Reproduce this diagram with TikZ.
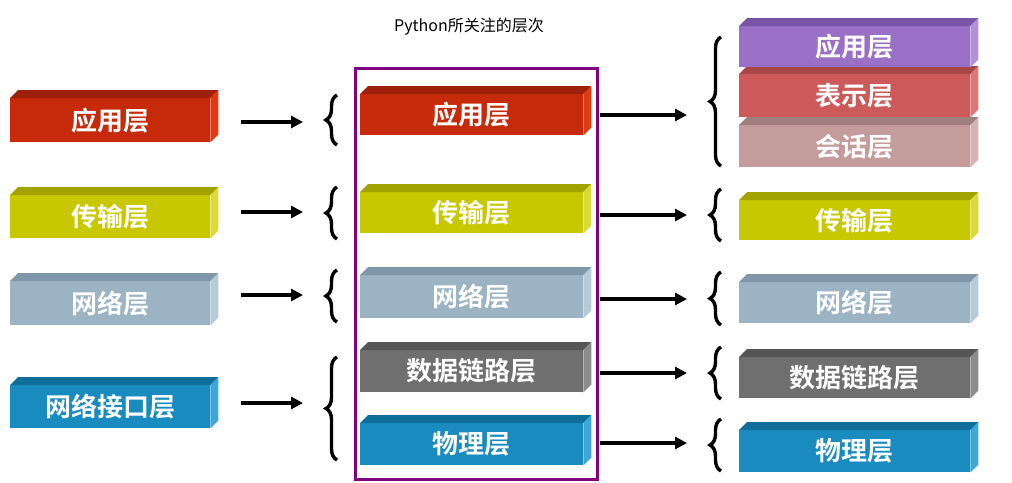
\documentclass[tikz,border=0pt]{standalone}
\usepackage{fontspec}
\newfontfamily\cjk{Noto Sans CJK SC}
\newfontfamily\cjkb{Noto Sans CJK SC Bold}
\usetikzlibrary{calc,decorations.pathreplacing,arrows.meta}
\definecolor{redF}{HTML}{C62A0A}\definecolor{redT}{HTML}{9E200A}\definecolor{redS}{HTML}{E03A12}
\definecolor{yelF}{HTML}{C8C800}\definecolor{yelT}{HTML}{A2A200}\definecolor{yelS}{HTML}{DADA3A}
\definecolor{gbF}{HTML}{9BB3C3}\definecolor{gbT}{HTML}{7F97A8}\definecolor{gbS}{HTML}{B7CAD7}
\definecolor{blF}{HTML}{1A8BBF}\definecolor{blT}{HTML}{0F6E9A}\definecolor{blS}{HTML}{3DA8D8}
\definecolor{dgF}{HTML}{6F6F6F}\definecolor{dgT}{HTML}{555555}\definecolor{dgS}{HTML}{8C8C8C}
\definecolor{puF}{HTML}{9A70C6}\definecolor{puT}{HTML}{7A55A5}\definecolor{puS}{HTML}{B490DA}
\definecolor{rsF}{HTML}{CC5A5A}\definecolor{rsT}{HTML}{A84545}\definecolor{rsS}{HTML}{DE7676}
\definecolor{pkF}{HTML}{C49C9C}\definecolor{pkT}{HTML}{A07E7E}\definecolor{pkS}{HTML}{D6B2B2}
\definecolor{frame}{HTML}{800080}
\tikzset{
  layerbox/.style={inner sep=0pt, anchor=north west, text=white, font=\cjkb\fontsize{26}{26}\selectfont},
  conn/.style={line width=3.6pt, -{Triangle[length=12pt,width=12pt]}},
  brc/.style={decorate, decoration={brace, amplitude=11pt}, line width=3.4pt},
}
% name, x, y, w, h, front, top, side, text
\newcommand\layer[9]{%
  \node[layerbox, fill=#6, minimum width=#4pt, minimum height=#5pt] (#1) at (#2,#3) {#9};
  \fill[#7] (#1.north west) -- ++(8,-8) -- ($(#1.north east)+(8,-8)$) -- (#1.north east) -- cycle;
  \fill[#8] (#1.north east) -- ++(8,-8) -- ($(#1.south east)+(8,-8)$) -- (#1.south east) -- cycle;
}
\begin{document}
\begin{tikzpicture}[x=1pt,y=-1pt]
\useasboundingbox (0,0) rectangle (1012,482);
\node[font=\cjk\fontsize{16}{16}\selectfont] (title) at (469,27) {Python所关注的层次};
% left column
\layer{L1}{10}{98}{200}{44}{redF}{redT}{redS}{应用层}
\layer{L2}{10}{195}{200}{43}{yelF}{yelT}{yelS}{传输层}
\layer{L3}{10}{281}{200}{44}{gbF}{gbT}{gbS}{网络层}
\layer{L4}{10}{385}{200}{43}{blF}{blT}{blS}{网络接口层}
% middle column
\draw[frame, line width=3pt] (355,68) rectangle (597,479);
\layer{M1}{360}{94}{223}{41}{redF}{redT}{redS}{应用层}
\layer{M2}{360}{192}{223}{41}{yelF}{yelT}{yelS}{传输层}
\layer{M3}{360}{275}{223}{43}{gbF}{gbT}{gbS}{网络层}
\layer{M4}{360}{350}{223}{42}{dgF}{dgT}{dgS}{数据链路层}
\layer{M5}{360}{423}{223}{42}{blF}{blT}{blS}{物理层}
% right column
\layer{R3}{739}{125}{231}{42}{pkF}{pkT}{pkS}{会话层}
\layer{R2}{739}{74}{231}{43}{rsF}{rsT}{rsS}{表示层}
\layer{R1}{739}{26}{231}{41}{puF}{puT}{puS}{应用层}
\layer{R4}{739}{200}{231}{40}{yelF}{yelT}{yelS}{传输层}
\layer{R5}{739}{282}{231}{41}{gbF}{gbT}{gbS}{网络层}
\layer{R6}{739}{357}{231}{41}{dgF}{dgT}{dgS}{数据链路层}
\layer{R7}{739}{430}{231}{42}{blF}{blT}{blS}{物理层}
% left braces
\coordinate (lb1a) at (337,145); \coordinate (lb1b) at (337,95);
\coordinate (lb2a) at (337,239); \coordinate (lb2b) at (337,187);
\coordinate (lb3a) at (337,322); \coordinate (lb3b) at (337,270);
\coordinate (lb4a) at (337,460); \coordinate (lb4b) at (337,357);
\draw[brc] (lb1a) -- (lb1b);
\draw[brc] (lb2a) -- (lb2b);
\draw[brc] (lb3a) -- (lb3b);
\draw[brc] (lb4a) -- (lb4b);
% right braces
\coordinate (rb1a) at (721,166); \coordinate (rb1b) at (721,37);
\coordinate (rb2a) at (721,241); \coordinate (rb2b) at (721,189);
\coordinate (rb3a) at (721,325); \coordinate (rb3b) at (721,272);
\coordinate (rb4a) at (721,399); \coordinate (rb4b) at (721,347);
\coordinate (rb5a) at (721,471); \coordinate (rb5b) at (721,419);
\draw[brc] (rb1a) -- (rb1b);
\draw[brc] (rb2a) -- (rb2b);
\draw[brc] (rb3a) -- (rb3b);
\draw[brc] (rb4a) -- (rb4b);
\draw[brc] (rb5a) -- (rb5b);
% left arrows
\coordinate (la1s) at (241,122); \coordinate (la1e) at (303,122);
\coordinate (la2s) at (241,212); \coordinate (la2e) at (303,212);
\coordinate (la3s) at (241,295); \coordinate (la3e) at (303,295);
\coordinate (la4s) at (241,403); \coordinate (la4e) at (303,403);
\draw[conn] (la1s) -- (la1e);
\draw[conn] (la2s) -- (la2e);
\draw[conn] (la3s) -- (la3e);
\draw[conn] (la4s) -- (la4e);
% middle arrows
\coordinate (ma1s) at (600,115); \coordinate (ma1e) at (687,115);
\coordinate (ma2s) at (600,215); \coordinate (ma2e) at (687,215);
\coordinate (ma3s) at (600,299); \coordinate (ma3e) at (687,299);
\coordinate (ma4s) at (600,373); \coordinate (ma4e) at (687,373);
\coordinate (ma5s) at (600,443); \coordinate (ma5e) at (687,443);
\draw[conn] (ma1s) -- (ma1e);
\draw[conn] (ma2s) -- (ma2e);
\draw[conn] (ma3s) -- (ma3e);
\draw[conn] (ma4s) -- (ma4e);
\draw[conn] (ma5s) -- (ma5e);
\end{tikzpicture}
\end{document}
